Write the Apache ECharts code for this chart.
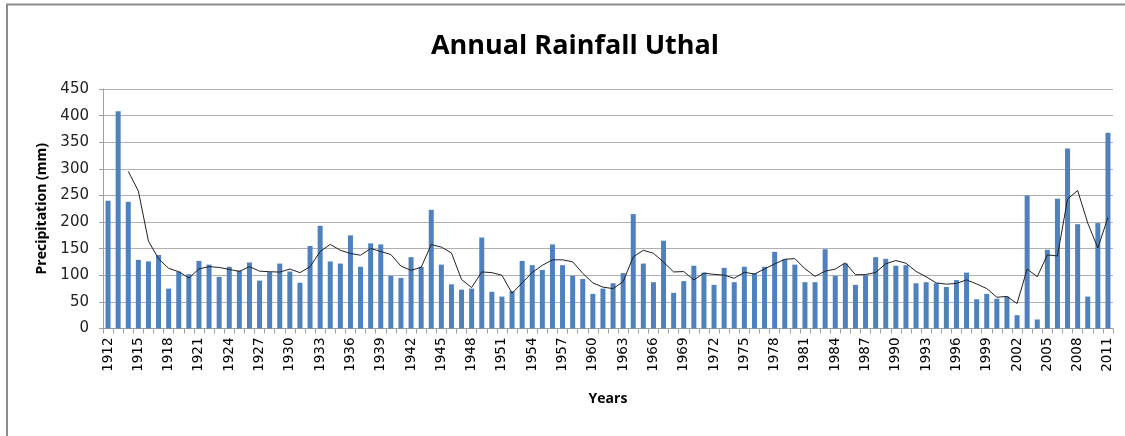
<!DOCTYPE html>
<html>
<head>
<meta charset="utf-8">
<script src="https://cdn.jsdelivr.net/npm/echarts@6/dist/echarts.min.js"></script>
<style>html,body{margin:0;padding:0;background:#fff}#c{width:1125px;height:436px}</style>
</head>
<body>
<div id="c"></div>
<script>
// Years 1912..2011
const years = [];
for (let y = 1912; y <= 2011; y++) years.push(String(y));

// Annual rainfall (mm)
const rainfall = [
 240,408,238,129,126,138,75,107,102,127,
 120,97,116,109,124,90,106,122,107,86,
 155,193,126,122,175,116,160,158,99,95,
 134,116,223,120,83,73,75,171,69,60,
 70,127,119,110,158,119,99,93,65,75,
 85,104,215,122,87,165,67,89,118,105,
 82,114,87,116,104,116,144,130,120,87,
 87,149,99,122,82,100,134,131,118,119,
 85,87,85,78,91,105,55,65,56,60,
 25,250,17,148,244,338,196,60,198,368
];

// Trend line (3-year moving average)
const trend = [
 null,null,295.3,258.3,164.3,131,113,106.7,94.7,112,
 116.3,114.7,111,107.3,116.3,107.7,106.7,106,111.7,105,
 116,144.7,158,147,141,137.7,150.3,144.7,139,117.3,
 109.3,115,157.7,153,142,92,77,106.3,105,100,
 66.3,85.7,105.3,118.7,129,129,125.3,103.7,85.7,77.7,
 75,88,134.7,147,141.3,124.7,106.3,107,91.3,104,
 101.7,100.3,94.3,105.7,102.3,112,121.3,130,131.3,112.3,
 98,107.7,111.7,123.3,101,101.3,105.3,121.7,127.7,122.7,
 107.3,97,85.7,83.3,84.7,91.3,83.7,75,58.7,60.3,
 47,111.7,97.3,138.3,136.3,243.3,259.3,198,151.3,208.7
];

const yTicks = [0,50,100,150,200,250,300,350,400,450];

const chart = echarts.init(document.getElementById('c'), null, {renderer:'canvas'});
chart.setOption({
  animation: false,
  backgroundColor: '#fff',
  title: {
    text: 'Annual Rainfall Uthal',
    left: 570, top: 28, textAlign: 'center',
    textStyle: {fontFamily: 'Open Sans', fontWeight: 'bold', fontSize: 27, color: '#000'}
  },
  graphic: [
    {type:'line', shape:{x1:6,y1:4.5,x2:1125,y2:4.5}, style:{stroke:'#8c8c8c', lineWidth:2}},
    {type:'line', shape:{x1:7,y1:4,x2:7,y2:436}, style:{stroke:'#8c8c8c', lineWidth:2}}
  ],
  grid: {left: 103, right: 12, top: 89, bottom: 107.5, containLabel: false},
  xAxis: {
    type: 'category',
    data: years,
    boundaryGap: true,
    name: 'Years',
    nameLocation: 'middle',
    nameGap: 64,
    nameTextStyle: {fontFamily: 'Open Sans', fontWeight: 'bold', fontSize: 14, color: '#000'},
    axisLine: {lineStyle: {color: '#a0a0a0', width: 1}},
    axisTick: {show: true, interval: 0, length: 5, lineStyle: {color: '#a0a0a0'}},
    axisLabel: {
      interval: 2, rotate: 90, margin: 9,
      fontFamily: 'DejaVu Sans', fontSize: 13.5, color: '#000'
    },
    splitLine: {show: false}
  },
  yAxis: {
    type: 'value',
    min: 0, max: 450, interval: 50,
    name: 'Precipitation (mm)',
    nameLocation: 'middle',
    nameGap: 52,
    nameTextStyle: {fontFamily: 'Open Sans', fontWeight: 'bold', fontSize: 14, color: '#000'},
    axisLine: {show: true, lineStyle: {color: '#a0a0a0'}},
    axisTick: {show: true, length: 4, lineStyle: {color: '#a0a0a0'}},
    axisLabel: {
      margin: 14, fontFamily: 'DejaVu Sans', fontSize: 15, color: '#222',
      formatter: v => yTicks.includes(v) ? String(v) : ''
    },
    splitLine: {show: true, lineStyle: {color: '#b0b0b0', width: 1}}
  },
  series: [
    {
      type: 'bar', data: rainfall, barWidth: 5,
      itemStyle: {color: '#4f81bd'}
    },
    {
      type: 'line', data: trend, showSymbol: false, symbol: 'none',
      connectNulls: false,
      lineStyle: {color: '#222', width: 1}
    }
  ]
});
</script>
</body>
</html>
